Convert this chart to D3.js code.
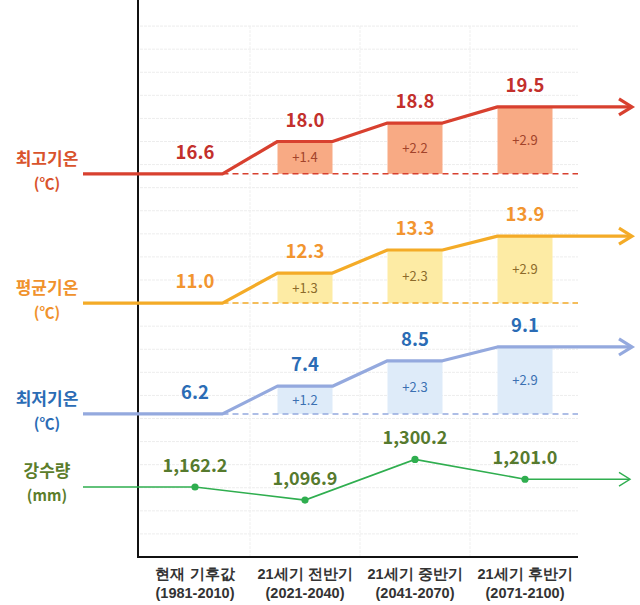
<!DOCTYPE html>
<html>
<head>
<meta charset="utf-8">
<script src="https://cdn.jsdelivr.net/npm/d3@7"></script>
<style>
  html, body { margin: 0; padding: 0; background: #fff; }
  svg { display: block; font-family: "Noto Sans CJK KR", "Noto Sans", sans-serif; }
</style>
</head>
<body>
<svg id="chart" width="640" height="605"></svg>
<script>
// Periods on the x axis
const periods = ["현재 기후값", "21세기 전반기", "21세기 중반기", "21세기 후반기"];
const periodYears = ["(1981-2010)", "(2021-2040)", "(2041-2070)", "(2071-2100)"];

// Temperature series (°C)
const maxTemp = [16.6, 18.0, 18.8, 19.5];
const meanTemp = [11.0, 12.3, 13.3, 13.9];
const minTemp = [6.2, 7.4, 8.5, 9.1];

// Change versus present climate (°C)
const maxChange = [null, 1.4, 2.2, 2.9];
const meanChange = [null, 1.3, 2.3, 2.9];
const minChange = [null, 1.2, 2.3, 2.9];

// Annual precipitation (mm)
const precip = [1162.2, 1096.9, 1300.2, 1201.0];

const svg = d3.select("#chart");

const x = d3.scaleBand().domain(periods).range([140, 580]);
const yT = d3.scaleLinear().domain([0, 24]).range([557, 3]);
const yP = d3.scaleLinear().domain([1000, 1400]).range([519.44, 439.44]);

const barW = x.bandwidth() * 0.5;
const cx = d => x(d) + x.bandwidth() / 2;
const lineStartX = 83;
const arrowX = 631;

// Grid
const grid = svg.append("g");
grid.selectAll("line.h").data(d3.range(1, 24)).join("line")
  .attr("x1", 140).attr("x2", 578)
  .attr("y1", d => yT(d)).attr("y2", d => yT(d))
  .attr("stroke", "#ededed").attr("stroke-width", 1).attr("stroke-dasharray", "3,1");
grid.selectAll("line.v").data(periods.slice(1)).join("line")
  .attr("x1", d => x(d)).attr("x2", d => x(d))
  .attr("y1", yT(23)).attr("y2", 557)
  .attr("stroke", "#efefef").attr("stroke-width", 1).attr("stroke-dasharray", "3,1");

// Axes
svg.append("line").attr("x1", 138).attr("x2", 138).attr("y1", 0).attr("y2", 558)
  .attr("stroke", "#111").attr("stroke-width", 2);
svg.append("line").attr("x1", 137).attr("x2", 578).attr("y1", 557).attr("y2", 557)
  .attr("stroke", "#111").attr("stroke-width", 2);

const xAxis = d3.axisBottom(x).tickSize(0).tickFormat(() => "");
const ax = svg.append("g").attr("transform", "translate(0,557)").call(xAxis);
ax.select(".domain").remove();
ax.selectAll(".tick text").remove();
ax.selectAll(".tick").each(function(d, i) {
  const t = d3.select(this).append("text")
    .attr("text-anchor", "middle")
    .attr("font-size", 14.5).attr("font-weight", 700).attr("fill", "#333");
  t.append("tspan").attr("x", 0).attr("y", 22).text(periods[i]);
  t.append("tspan").attr("x", 0).attr("y", 41).text(periodYears[i]);
});

// Open chevron arrowhead
function arrow(g, xTip, y, color, w, size) {
  g.append("path")
    .attr("d", `M${xTip - size},${y - size * 0.62} L${xTip},${y} L${xTip - size},${y + size * 0.62}`)
    .attr("fill", "none").attr("stroke", color).attr("stroke-width", w)
    .attr("stroke-linejoin", "miter").attr("stroke-linecap", "butt");
}

const tempSeries = [
  { name: "최고기온", values: maxTemp, change: maxChange, line: "#d8402f", label: "#c3302c",
    side: "#d9532c", bar: "#f8aa84", barText: "#a2432a" },
  { name: "평균기온", values: meanTemp, change: meanChange, line: "#f4ab27", label: "#f2952f",
    side: "#f0922c", bar: "#fdeba4", barText: "#8c6a2a" },
  { name: "최저기온", values: minTemp, change: minChange, line: "#94a9de", label: "#2b6cb5",
    side: "#2b6cb5", bar: "#deebf9", barText: "#3b70b2" }
];

tempSeries.forEach(s => {
  const g = svg.append("g");
  const base = yT(s.values[0]);
  const rows = periods.map((p, i) => ({ p, v: s.values[i], c: s.change[i] }));

  // Increase bars
  g.selectAll("rect").data(rows.filter(d => d.c !== null)).join("rect")
    .attr("x", d => cx(d.p) - barW / 2)
    .attr("width", barW)
    .attr("y", d => yT(d.v))
    .attr("height", d => base - yT(d.v))
    .attr("fill", s.bar);

  g.selectAll("text.chg").data(rows.filter(d => d.c !== null)).join("text")
    .attr("x", d => cx(d.p))
    .attr("y", d => (yT(d.v) + base) / 2 + 4.5)
    .attr("text-anchor", "middle").attr("font-size", 13).attr("fill", s.barText)
    .text(d => "+" + d3.format(".1f")(d.c));

  // Present-climate reference
  g.append("line")
    .attr("x1", cx(periods[0]) + barW / 2).attr("x2", 578)
    .attr("y1", base).attr("y2", base)
    .attr("stroke", s.line).attr("stroke-width", 1.5).attr("stroke-dasharray", "6,4");

  // Stepped line
  const pts = [[lineStartX, base]];
  periods.forEach((p, i) => {
    const y = yT(s.values[i]);
    if (i > 0) pts.push([cx(p) - barW / 2, y]);
    pts.push(i === periods.length - 1 ? [arrowX, y] : [cx(p) + barW / 2, y]);
  });
  g.append("path").attr("d", d3.line()(pts))
    .attr("fill", "none").attr("stroke", s.line).attr("stroke-width", 3.2)
    .attr("stroke-linejoin", "round");
  arrow(g, arrowX + 1, yT(s.values[s.values.length - 1]), s.line, 3.2, 13);

  // Value labels
  g.selectAll("text.val").data(rows).join("text")
    .attr("x", d => cx(d.p)).attr("y", d => yT(d.v) - 15)
    .attr("text-anchor", "middle").attr("font-size", 18.5).attr("font-weight", 700)
    .attr("fill", s.label)
    .text(d => d3.format(".1f")(d.v));

  // Series name on the left
  const t = g.append("text").attr("text-anchor", "middle")
    .attr("font-size", 17).attr("font-weight", 700).attr("fill", s.side);
  t.append("tspan").attr("x", 47).attr("y", base - 9).text(s.name);
  t.append("tspan").attr("x", 47).attr("y", base + 15).attr("font-size", 15).text("(℃)");
});

// Precipitation
const gp = svg.append("g");
const pPts = [[lineStartX, yP(precip[0])]].concat(periods.map((p, i) => [cx(p), yP(precip[i])]));
pPts.push([arrowX - 2, yP(precip[precip.length - 1])]);
gp.append("path").attr("d", d3.line()(pPts))
  .attr("fill", "none").attr("stroke", "#2fae4f").attr("stroke-width", 1.6);
arrow(gp, arrowX - 1, yP(precip[precip.length - 1]), "#2fae4f", 1.4, 11);
gp.selectAll("circle").data(periods.map((p, i) => ({ p, v: precip[i] }))).join("circle")
  .attr("cx", d => cx(d.p)).attr("cy", d => yP(d.v)).attr("r", 3.6).attr("fill", "#2fae4f");
gp.selectAll("text.val").data(periods.map((p, i) => ({ p, v: precip[i] }))).join("text")
  .attr("x", d => cx(d.p)).attr("y", d => yP(d.v) - 15)
  .attr("text-anchor", "middle").attr("font-size", 18).attr("font-weight", 700)
  .attr("fill", "#567a2e")
  .text(d => d3.format(",.1f")(d.v));
const tp = gp.append("text").attr("text-anchor", "middle")
  .attr("font-size", 17).attr("font-weight", 700).attr("fill", "#5b7d2b");
tp.append("tspan").attr("x", 47).attr("y", yP(precip[0]) - 10).text("강수량");
tp.append("tspan").attr("x", 47).attr("y", yP(precip[0]) + 14).attr("font-size", 15).text("(mm)");
</script>
</body>
</html>
